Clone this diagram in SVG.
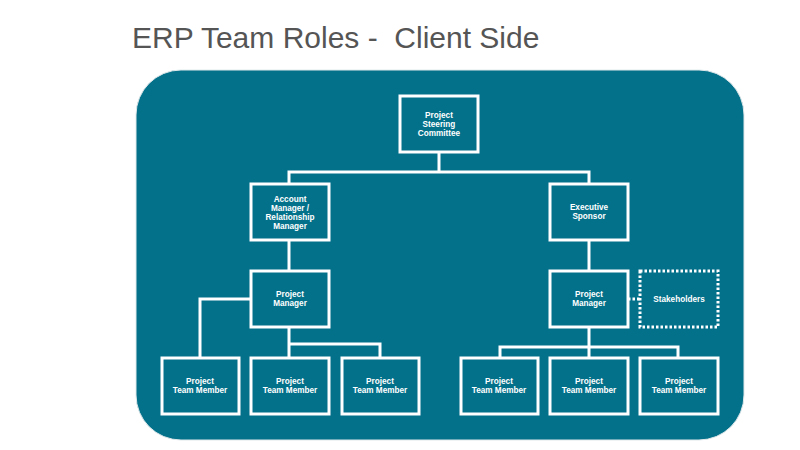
<svg xmlns="http://www.w3.org/2000/svg" width="800" height="450" viewBox="0 0 800 450">
<style>
.box{fill:none;stroke:#ffffff;stroke-width:3}
.dot{fill:none;stroke:#ffffff;stroke-width:3;stroke-dasharray:2.5 2}
.ln{fill:none;stroke:#ffffff;stroke-width:3}
.t{font-family:"Liberation Sans",Arial,sans-serif;font-size:8.2px;font-weight:bold;fill:#ffffff;text-anchor:middle}
.title{font-family:"Liberation Sans",Arial,sans-serif;font-size:30px;fill:#555555}
</style>
<rect width="800" height="450" fill="#ffffff"/>
<text class="title" x="132" y="48" xml:space="preserve">ERP Team Roles -  Client Side</text>
<rect x="136" y="70" width="608" height="370" rx="45" ry="45" fill="#04718b" stroke="#dfe8ea" stroke-width="1"/>
<g id="connectors">
<path class="ln" d="M439 152 V172 M289 184 V172 H589 V184"/>
<path class="ln" d="M289 240 V271"/>
<path class="ln" d="M589 240 V271"/>
<path class="ln" d="M251 299 H200 V358"/>
<path class="ln" d="M289 327 V358 M289 344 H380 V358"/>
<path class="ln" d="M589 327 V358 M500 358 V347 H678 V358"/>
<path class="dot" d="M628 299 H640"/>
</g>
<g id="steering"><rect class="box" x="400" y="96" width="78" height="56"/><text class="t" x="439" y="118">Project</text><text class="t" x="439" y="127">Steering</text><text class="t" x="439" y="136">Committee</text></g>
<g id="account"><rect class="box" x="251" y="184" width="78" height="56"/><text class="t" x="290" y="202">Account</text><text class="t" x="290" y="211">Manager /</text><text class="t" x="290" y="220">Relationship</text><text class="t" x="290" y="229">Manager</text></g>
<g id="sponsor"><rect class="box" x="550" y="184" width="78" height="56"/><text class="t" x="589" y="210">Executive</text><text class="t" x="589" y="219">Sponsor</text></g>
<g id="pm-left"><rect class="box" x="251" y="271" width="78" height="56"/><text class="t" x="290" y="297">Project</text><text class="t" x="290" y="306">Manager</text></g>
<g id="pm-right"><rect class="box" x="550" y="271" width="78" height="56"/><text class="t" x="589" y="297">Project</text><text class="t" x="589" y="306">Manager</text></g>
<g id="stakeholders"><rect class="dot" x="640" y="271" width="78" height="56"/><text class="t" x="679" y="302">Stakeholders</text></g>
<g id="tm1"><rect class="box" x="162" y="358" width="77" height="56"/><text class="t" x="200" y="384">Project</text><text class="t" x="200" y="393">Team Member</text></g>
<g id="tm2"><rect class="box" x="251" y="358" width="78" height="56"/><text class="t" x="290" y="384">Project</text><text class="t" x="290" y="393">Team Member</text></g>
<g id="tm3"><rect class="box" x="342" y="358" width="77" height="56"/><text class="t" x="380" y="384">Project</text><text class="t" x="380" y="393">Team Member</text></g>
<g id="tm4"><rect class="box" x="461" y="358" width="77" height="56"/><text class="t" x="499" y="384">Project</text><text class="t" x="499" y="393">Team Member</text></g>
<g id="tm5"><rect class="box" x="550" y="358" width="78" height="56"/><text class="t" x="589" y="384">Project</text><text class="t" x="589" y="393">Team Member</text></g>
<g id="tm6"><rect class="box" x="640" y="358" width="78" height="56"/><text class="t" x="679" y="384">Project</text><text class="t" x="679" y="393">Team Member</text></g>
</svg>
